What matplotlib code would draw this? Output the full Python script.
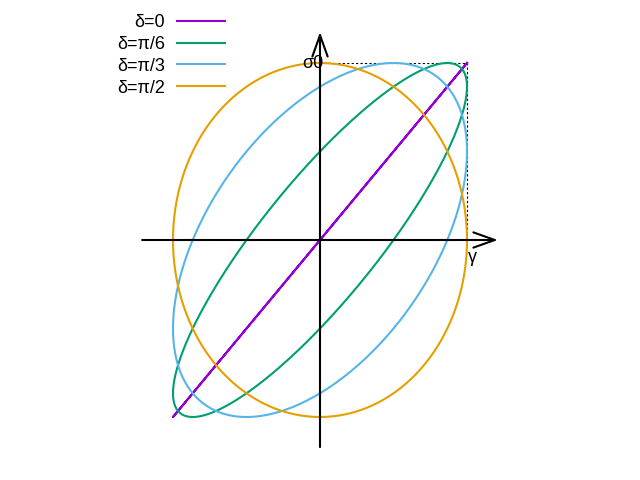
import numpy as np
import matplotlib
matplotlib.use("Agg")
import matplotlib.pyplot as plt

plt.rcParams['font.family'] = ['Liberation Sans', 'DejaVu Sans']

labels = ["δ=0", "δ=π/6", "δ=π/3", "δ=π/2"]
deltas = [0.0, np.pi / 6, np.pi / 3, np.pi / 2]
colors = ["#9400d3", "#009e73", "#56b4e9", "#e69f00"]

t = np.linspace(0, 2 * np.pi, 721)

fig = plt.figure(figsize=(6.4, 4.8), dpi=100)
ax = fig.add_axes([0, 0, 1, 1])
ax.set_xlim(-320 / 147, 320 / 147)
ax.set_ylim(-240 / 177, 240 / 177)
ax.axis('off')

# axes arrows
ax.annotate("", xy=(1.21, 0), xytext=(-1.21, 0),
            arrowprops=dict(arrowstyle="->,head_length=0.7,head_width=0.25", color="black", lw=1.5,
                            mutation_scale=22, shrinkA=0, shrinkB=0))
ax.annotate("", xy=(0, 1.175), xytext=(0, -1.17),
            arrowprops=dict(arrowstyle="->,head_length=0.7,head_width=0.25", color="black", lw=1.5,
                            mutation_scale=22, shrinkA=0, shrinkB=0))

# dotted guide lines
ax.plot([0, 1, 1], [1, 1, 0], color="black", lw=0.8, ls=(0, (2, 2)))

for d, lab, c in zip(deltas, labels, colors):
    ax.plot(np.cos(t), np.cos(t - d), color=c, lw=1.5, label=lab)

ax.text(0.027, 1.0, "σ0", ha='right', va='center', fontsize=13)
ax.text(1.034, -0.10, "γ", ha='center', va='center', fontsize=13)

leg = ax.legend(loc='upper left', bbox_to_anchor=(117 / 640, 1 - 14 / 480),
                bbox_transform=fig.transFigure, frameon=False, markerfirst=False,
                fontsize=13, labelspacing=0.27, handlelength=2.67, handletextpad=0.67,
                borderpad=0, borderaxespad=0)
for txt in leg.get_texts():
    txt.set_ha('right')

fig.savefig("out.png", dpi=100)
